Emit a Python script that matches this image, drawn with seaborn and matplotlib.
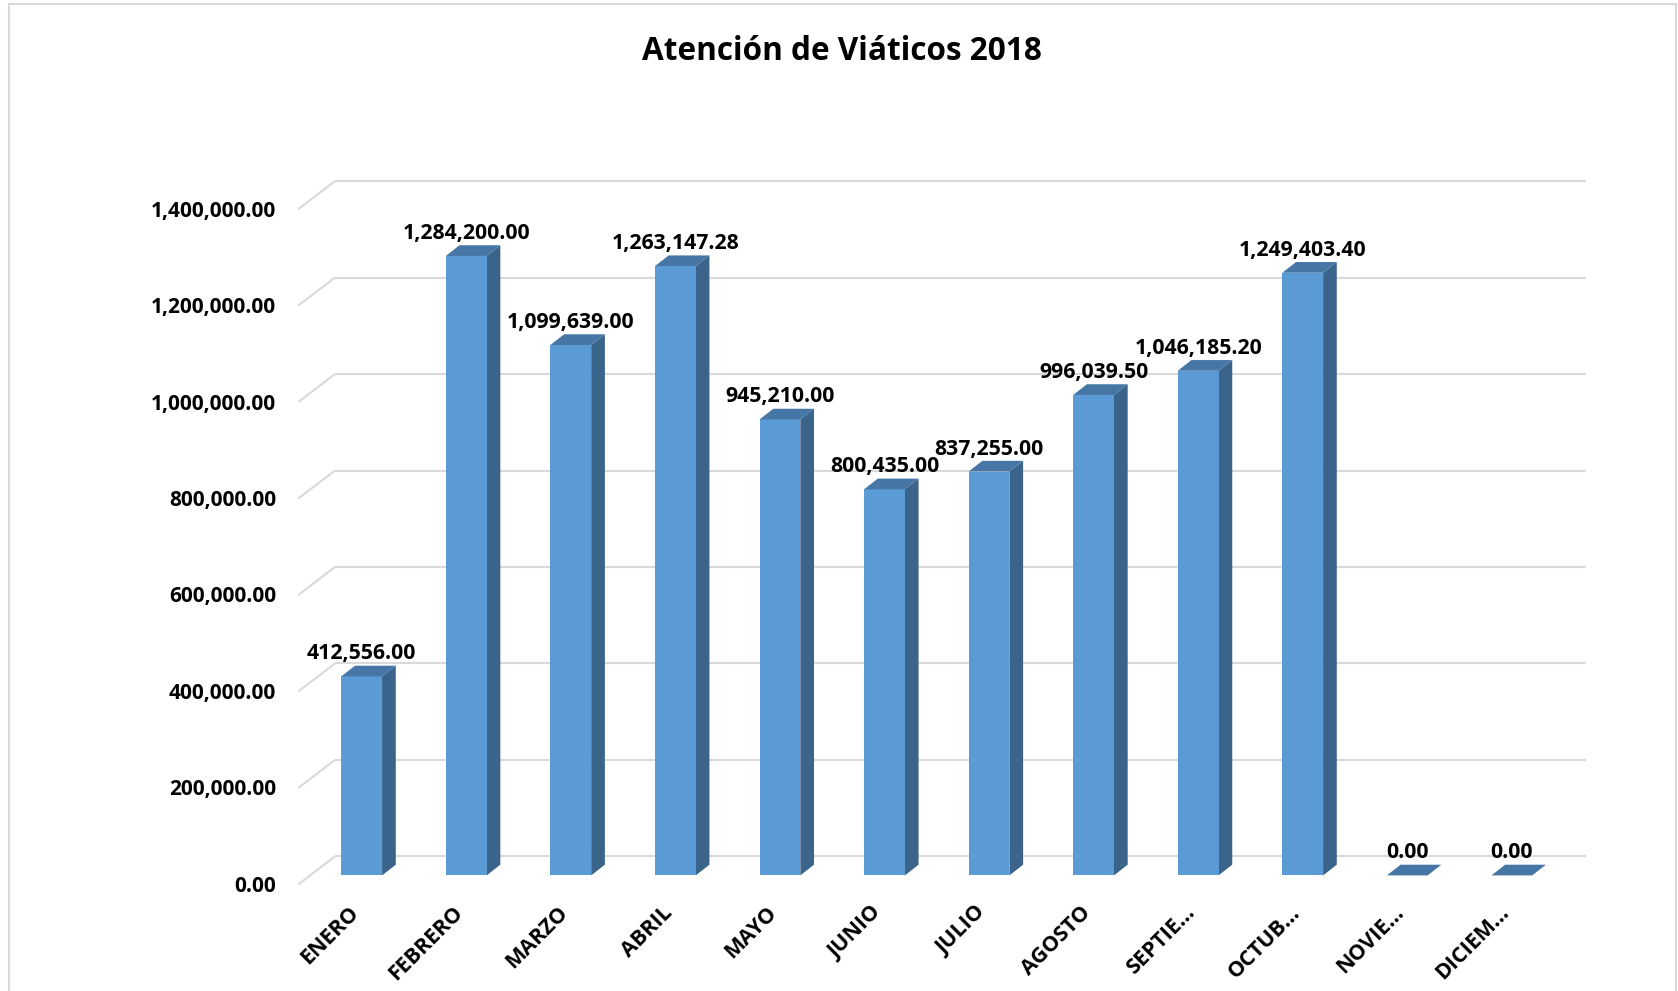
import numpy as np
import pandas as pd
import matplotlib
matplotlib.use("Agg")
import matplotlib.pyplot as plt
import seaborn as sns
from matplotlib.patches import Polygon
from matplotlib.lines import Line2D
from matplotlib.transforms import ScaledTranslation

# Monthly travel-allowance totals
months = ["ENERO", "FEBRERO", "MARZO", "ABRIL", "MAYO", "JUNIO", "JULIO",
          "AGOSTO", "SEPTIE…", "OCTUB…", "NOVIE…", "DICIEM…"]
amounts = [412556.00, 1284200.00, 1099639.00, 1263147.28, 945210.00, 800435.00,
           837255.00, 996039.50, 1046185.20, 1249403.40, 0.00, 0.00]
y_ticks = [0, 200000, 400000, 600000, 800000, 1000000, 1200000, 1400000]
title = "Atención de Viáticos 2018"

FRONT = "#5B9BD5"
SIDE = "#3A6489"
TOP = "#4676A6"
GRID = "#D9D9D9"

sns.set_theme(style="white")
plt.rcParams["font.family"] = ["Open Sans", "DejaVu Sans"]

W, H = 1678, 991
fig = plt.figure(figsize=(W / 100, H / 100), dpi=100)
fig.patch.set_facecolor("white")

# axes box = front plane of the bars
left_px, right_px = 309.4, 1564.1
bottom_px, top_px = 875.4, 200.1
ax = fig.add_axes([left_px / W, (H - bottom_px) / H,
                   (right_px - left_px) / W, (bottom_px - top_px) / H])

df = pd.DataFrame({"mes": months, "monto": amounts})
sns.barplot(data=df, x="mes", y="monto", order=months, color=FRONT,
            saturation=1, width=0.39, linewidth=0, ax=ax, zorder=3)
ax.set_xlim(-0.5, len(months) - 0.5)
ax.set_ylim(0, y_ticks[-1])
ax.set_xlabel("")
ax.set_ylabel("")
ax.set_xticks([])
ax.set_yticks([])
ax.patch.set_alpha(0)
for s in ax.spines.values():
    s.set_visible(False)


def shift(dx, dy):
    """Offset in pixels (x right, y up)."""
    return ScaledTranslation(dx / 100, dy / 100, fig.dpi_scale_trans)


to_disp = ax.transData.transform
to_data = ax.transData.inverted().transform

# perspective offsets (pixels) of the chart floor/wall planes
FRONT_OFF = np.array([-11.1, -9.0])
BACK_OFF = np.array([25.6, 19.0])
WALL_END = np.array([-4.0, 0.0])
DEPTH = np.array([13.7, 10.7])

# gridlines on the back wall plus the receding floor edges
x_lo, x_hi = ax.get_xlim()
for v in y_ticks:
    p0 = to_disp((x_lo, v))
    p1 = to_disp((x_hi, v))
    back = to_data(np.array([p0 + BACK_OFF, p1 + BACK_OFF + WALL_END]))
    diag = to_data(np.array([p0 + FRONT_OFF, p0 + BACK_OFF]))
    for seg in (back, diag):
        ax.add_line(Line2D(seg[:, 0], seg[:, 1], color=GRID, lw=1.5,
                           clip_on=False, zorder=0, solid_capstyle="butt"))
    ax.text(x_lo, v, f"{v:,.2f}", transform=ax.transData + shift(-33.5, -11),
            ha="right", va="center", fontsize=15, fontweight="bold",
            color="#000000")

# side and top faces of each bar
for patch in ax.patches:
    x0, w, h = patch.get_x(), patch.get_width(), patch.get_height()
    bl, br = to_disp((x0, 0)), to_disp((x0 + w, 0))
    tl, tr = to_disp((x0, h)), to_disp((x0 + w, h))
    side = to_data(np.array([br, tr, tr + DEPTH, br + DEPTH]))
    top = to_data(np.array([tl, tr, tr + DEPTH, tl + DEPTH]))
    ax.add_patch(Polygon(side, closed=True, facecolor=SIDE, edgecolor="none",
                         zorder=2.9, clip_on=False))
    ax.add_patch(Polygon(top, closed=True, facecolor=TOP, edgecolor="none",
                         zorder=3.1, clip_on=False))

# value labels above the bars
for i, v in enumerate(amounts):
    ax.text(i, v, f"{v:,.2f}", transform=ax.transData + shift(0, 17),
            ha="center", va="baseline", fontsize=15.3, fontweight="bold",
            color="#000000", clip_on=False)

# rotated month labels
for i, m in enumerate(months):
    ax.text(i, 0, m, transform=ax.transData + shift(-6, -34), rotation=45,
            rotation_mode="anchor", ha="right", va="center", fontsize=15.5,
            fontweight="bold", color="#000000")

fig.text(842 / W, 1 - 51 / H, title, ha="center", va="center",
         fontsize=22.7, fontweight="bold", color="#000000")

# chart-area frame
for xs, ys in (([8.5, 8.5], [4, H]), ([8.5, 1676], [4, 4]), ([1676, 1676], [4, H])):
    fig.add_artist(Line2D([x / W for x in xs], [1 - y / H for y in ys],
                          transform=fig.transFigure, color="#D9D9D9", lw=1.5))

fig.savefig("out.png", dpi=100, facecolor="white")
